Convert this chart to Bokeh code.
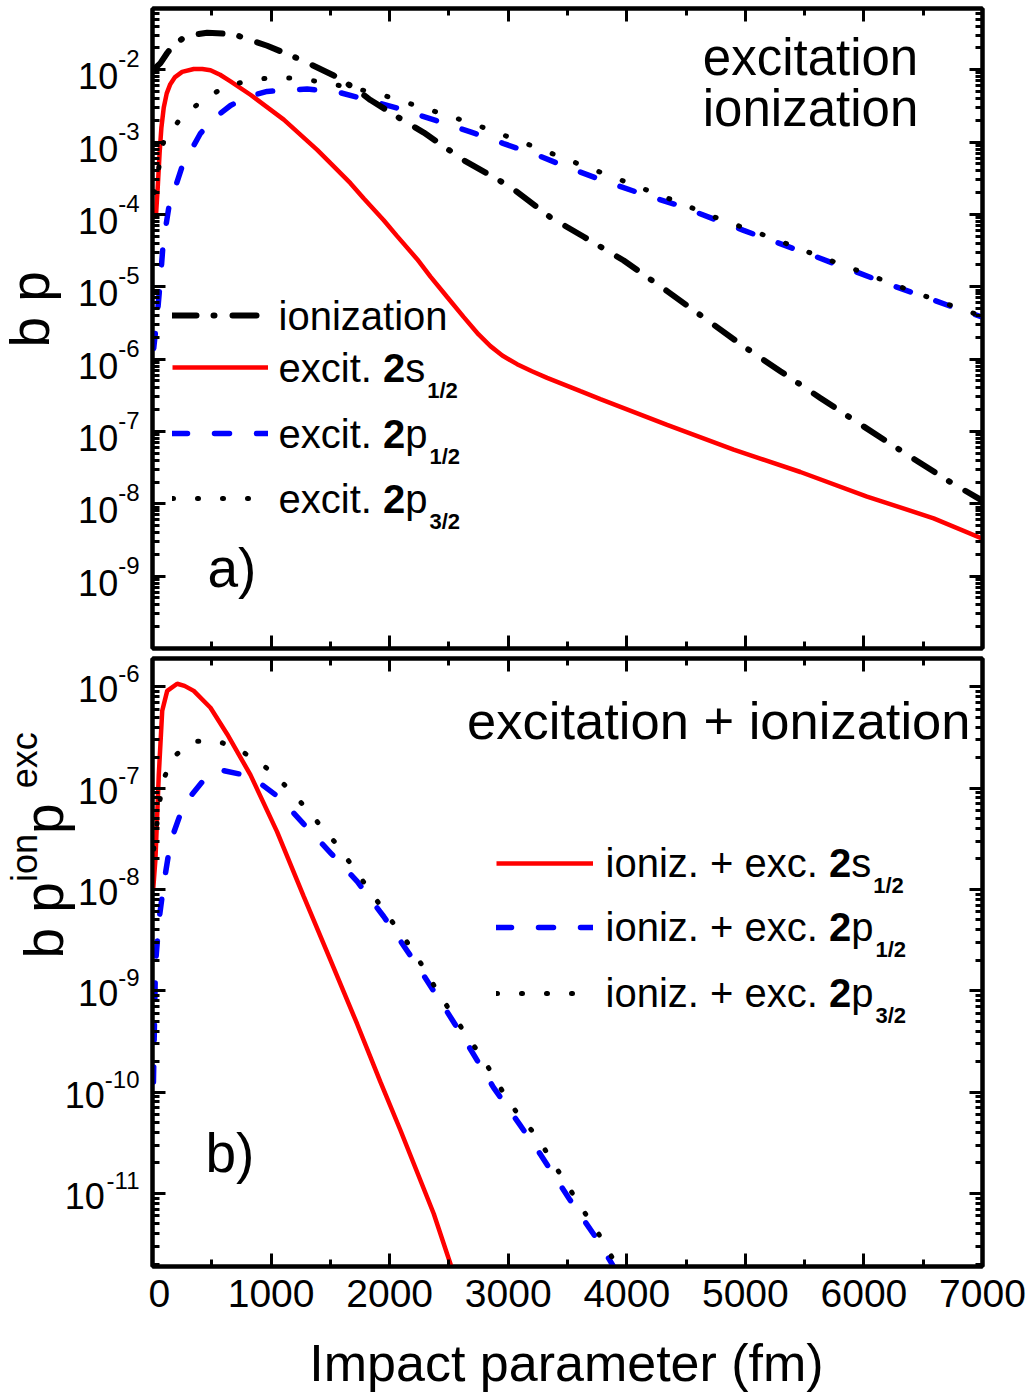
import math
from bokeh.plotting import figure
from bokeh.layouts import column, row
from bokeh.models import (FixedTicker, LinearAxis, LogAxis, Range1d, Label,
                          Legend, LegendItem, CustomJSTickFormatter)
from bokeh.embed import file_html
from bokeh.resources import INLINE

FONT = "Liberation Sans"

# ---------------- data ----------------
# panel a)  b*p versus impact parameter b (fm)
ion_b = [10, 67, 124, 180, 292, 461, 683, 967, 1248, 1529, 1726, 1838, 2063, 2288,
         2625, 3019, 3356, 3637, 3974, 4340, 4985, 5295, 5632, 5998, 6363, 6728, 7000]
ion_bp = [1.0e-2, 1.23e-2, 1.70e-2, 2.24e-2, 2.95e-2, 3.24e-2, 3.09e-2, 2.14e-2, 1.38e-2,
          8.3e-3, 5.25e-3, 3.8e-3, 2.24e-3, 1.35e-3, 5.6e-4, 2.4e-4, 9.1e-5, 4.9e-5,
          2.3e-5, 8.7e-6, 1.5e-6, 6.8e-7, 2.9e-7, 1.17e-7, 4.8e-8, 2.0e-8, 1.1e-8]

s12_b = [30, 45, 60, 75, 95, 120, 150, 190, 250, 348, 420, 489, 570, 658, 826, 1107,
         1389, 1501, 1669, 1782, 1950, 2063, 2232, 2344, 2485, 2625, 2750, 2850, 2950,
         3075, 3200, 3328, 3609, 3777, 4340, 4901, 5464, 6026, 6588, 7000]
s12_bp = [1.0e-4, 2.5e-4, 7.1e-4, 1.58e-3, 3.0e-3, 4.7e-3, 6.3e-3, 7.9e-3, 9.3e-3,
          1.02e-2, 1.02e-2, 9.8e-3, 8.5e-3, 6.9e-3, 4.5e-3, 2.04e-3, 7.8e-4, 5.1e-4,
          2.7e-4, 1.66e-4, 8.3e-5, 5.0e-5, 2.4e-5, 1.38e-5, 7.2e-6, 3.8e-6, 2.19e-6,
          1.51e-6, 1.12e-6, 8.5e-7, 6.8e-7, 5.5e-7, 3.6e-7, 2.8e-7, 1.23e-7, 5.6e-8,
          2.75e-8, 1.26e-8, 6.3e-9, 3.3e-9]

p12_b = [10, 40, 67, 90, 138, 250, 405, 530, 658, 800, 967, 1304, 1585, 2063, 2428,
         2681, 2962, 3244, 3525, 3834, 4115, 4423, 4985, 5604, 6166, 6799, 7000]
p12_bp = [1.4e-6, 4.0e-6, 1.26e-5, 4.0e-5, 1.26e-4, 4.6e-4, 1.32e-3, 2.2e-3, 3.2e-3,
          4.2e-3, 5.0e-3, 5.4e-3, 4.8e-3, 2.95e-3, 1.9e-3, 1.38e-3, 9.5e-4, 6.6e-4,
          4.3e-4, 2.8e-4, 1.95e-4, 1.35e-4, 6.0e-5, 2.57e-5, 1.15e-5, 4.9e-6, 3.8e-6]

p32_b = [15, 93, 215, 427, 635, 840, 1051, 1262, 1459, 1880, 2288, 2710, 3117, 3525,
         3946, 4368, 4775, 5197, 5604, 6020, 6433, 6855, 7000]
p32_bp = [2.0e-4, 1.0e-3, 1.9e-3, 3.9e-3, 6.0e-3, 7.2e-3, 7.9e-3, 7.4e-3, 6.6e-3,
          4.8e-3, 2.95e-3, 1.78e-3, 1.0e-3, 5.5e-4, 3.0e-4, 1.62e-4, 8.7e-5, 4.9e-5,
          2.7e-5, 1.51e-5, 8.3e-6, 4.7e-6, 3.9e-6]

# panel b)  b * p_ion * p_exc
is12_b = [6, 25, 53, 82, 124, 208, 270, 348, 489, 630, 826, 1051, 1276, 1501, 1726,
          1922, 2091, 2372, 2520]
is12_bp = [1.0e-8, 2.0e-8, 1.35e-7, 5.8e-7, 9.1e-7, 1.07e-6, 1.02e-6, 9.1e-7, 6.2e-7,
           3.4e-7, 1.35e-7, 3.7e-8, 8.5e-9, 2.0e-9, 4.7e-10, 1.26e-10, 4.2e-11, 6.3e-12,
           1.9e-12]

ip12_b = [8, 25, 55, 96, 152, 264, 461, 573, 770, 883, 1079, 1276, 1501, 1726, 1950,
          2232, 2485, 2654, 2878, 3096, 3275, 3513, 3752, 3900]
ip12_bp = [1.26e-10, 1.8e-9, 5.0e-9, 1.15e-8, 2.95e-8, 6.9e-8, 1.32e-7, 1.51e-7,
           1.35e-7, 1.17e-7, 7.9e-8, 4.4e-8, 2.3e-8, 1.2e-8, 5.4e-9, 1.78e-9, 6.2e-10,
           3.0e-10, 1.1e-10, 4.8e-11, 2.4e-11, 8.9e-12, 3.5e-12, 1.8e-12]

ip32_b = [10, 82, 166, 348, 559, 770, 972, 1178, 1360, 1535, 1692, 1838, 1984, 2133,
          2274, 2400, 2527, 2667, 2808, 2934, 3075, 3245, 3379, 3499, 3633, 3767, 3920]
ip32_bp = [2.5e-8, 1.12e-7, 2.0e-7, 2.9e-7, 2.9e-7, 2.24e-7, 1.55e-7, 9.1e-8, 5.1e-8,
           2.95e-8, 1.66e-8, 9.5e-9, 5.5e-9, 3.2e-9, 1.78e-9, 1.0e-9, 5.9e-10, 3.4e-10,
           1.95e-10, 1.1e-10, 6.2e-11, 3.6e-11, 2.0e-11, 1.2e-11, 6.8e-12, 3.9e-12, 1.9e-12]

# ticks and labels
x_major = [0, 1000, 2000, 3000, 4000, 5000, 6000, 7000]
x_minor = [500, 1500, 2500, 3500, 4500, 5500, 6500]
a_exps = [-2, -3, -4, -5, -6, -7, -8, -9]
b_exps = [-6, -7, -8, -9, -10, -11]
x_title = "Impact parameter (fm)"
a_ytitle = [("b p", "m")]
b_ytitle = [("b p", "m"), ("ion", "s"), (" p", "m"), ("exc", "s")]
a_note = ["excitation", "ionization"]
b_note = "excitation + ionization"
a_legend = [
    [("ionization", "n")],
    [("excit. ", "n"), ("2", "b"), ("s", "n"), ("1/2", "sub")],
    [("excit. ", "n"), ("2", "b"), ("p", "n"), ("1/2", "sub")],
    [("excit. ", "n"), ("2", "b"), ("p", "n"), ("3/2", "sub")],
]
b_legend = [
    [("ioniz. + exc. ", "n"), ("2", "b"), ("s", "n"), ("1/2", "sub")],
    [("ioniz. + exc. ", "n"), ("2", "b"), ("p", "n"), ("1/2", "sub")],
    [("ioniz. + exc. ", "n"), ("2", "b"), ("p", "n"), ("3/2", "sub")],
]

# ---------------- layout (page pixels) ----------------
W = 1035
SIDE = 148                 # width of the left strip holding y labels
FL, FR = 152, 982          # frame left / right (page x)
FW = FR - FL
XMAX = 7000
A_H, A_TOP, A_BOT = 652, 8, 648
B_H, B_TOP, B_BOT = 674, 658, 1266          # page coordinates
T_H = 1393 - A_H - B_H                      # strip for x title
A_YR = (1e-10, 0.07)
B_YR = (1.9e-12, 1.9e-6)
BASE_K = 0.37              # anchor correction (fraction of font size)

REG = {' ': 278, '+': 584, '-': 333, '.': 278, '/': 278, '(': 333, ')': 333,
       'a': 556, 'b': 556, 'c': 500, 'e': 556, 'f': 278, 'i': 222, 'm': 833, 'n': 556,
       'o': 556, 'p': 556, 'r': 333, 's': 500, 't': 278, 'x': 500, 'z': 500}
BOLD = {'/': 278, 's': 556, 'p': 611}


def tw(s, size, bold=False):
    tot = 0
    for ch in s:
        if ch.isdigit():
            tot += 556
        else:
            tot += (BOLD.get(ch, REG.get(ch, 556)) if bold else REG.get(ch, 556))
    return tot / 1000.0 * size


def xd(px):
    return (px - FL) / FW * XMAX


def ymapper(top, bot, yr):
    lt, lb = math.log10(yr[1]), math.log10(yr[0])

    def f(py):
        return 10 ** (lt - (py - top) / (bot - top) * (lt - lb))

    def tick_py(e):
        return top + (lt - e) / (lt - lb) * (bot - top)
    return f, tick_py


def lab(p, x, y, text, size, bold=False, align="left", angle=0.0):
    p.add_layout(Label(x=x, y=y, text=text, text_font=FONT, text_font_size=f"{size}px",
                       text_font_style="bold" if bold else "normal", text_color="black",
                       text_align=align, text_baseline="alphabetic", angle=angle))


def hlab(p, ymap, px, base_py, text, size, bold=False, align="left", data_x=True):
    x = xd(px) if data_x else px
    lab(p, x, ymap(base_py - BASE_K * size), text, size, bold, align)


def style_axis(ax, labels=False):
    ax.axis_line_width = 4
    ax.axis_line_color = "black"
    ax.major_tick_in = 13
    ax.major_tick_out = 0
    ax.minor_tick_in = 7
    ax.minor_tick_out = 0
    ax.major_tick_line_width = 3
    ax.minor_tick_line_width = 3
    ax.major_tick_line_color = "black"
    ax.minor_tick_line_color = "black"
    if not labels:
        ax.formatter = CustomJSTickFormatter(code="return ''")
        ax.major_label_text_font_size = "0px"
        ax.major_label_standoff = 0


def bare(p):
    p.grid.visible = False
    p.outline_line_color = None
    p.background_fill_color = "white"
    p.border_fill_color = "white"


def make_fig(height, top_border, frame_h, yr, exps):
    p = figure(width=W - SIDE, height=height, x_range=Range1d(0, XMAX), y_range=Range1d(*yr),
               y_axis_type="log", x_axis_location=None, y_axis_location=None,
               output_backend="svg", toolbar_location=None,
               min_border_left=FL - SIDE, min_border_right=W - FR,
               min_border_top=top_border, min_border_bottom=height - top_border - frame_h)
    bare(p)
    p.outline_line_color = "black"
    p.outline_line_width = 4
    y_minor = [k * 10.0 ** e for e in range(min(exps) - 2, max(exps) + 2) for k in range(2, 10)]
    y_major = [10.0 ** e for e in range(min(exps) - 2, max(exps) + 2)]
    for loc in ("left", "right"):
        ax = LogAxis(ticker=FixedTicker(ticks=y_major, minor_ticks=y_minor))
        style_axis(ax)
        p.add_layout(ax, loc)
    return p


def make_side(height, top_border, frame_h, yr):
    s = figure(width=SIDE, height=height, x_range=Range1d(0, SIDE), y_range=Range1d(*yr),
               y_axis_type="log", x_axis_location=None, y_axis_location=None,
               output_backend="svg", toolbar_location=None,
               min_border_left=0, min_border_right=0,
               min_border_top=top_border, min_border_bottom=height - top_border - frame_h)
    bare(s)
    return s


def add_x_axes(p, labelled):
    top_ax = LinearAxis(ticker=FixedTicker(ticks=x_major, minor_ticks=x_minor))
    style_axis(top_ax)
    p.add_layout(top_ax, "above")
    bot_ax = LinearAxis(ticker=FixedTicker(ticks=x_major, minor_ticks=x_minor))
    style_axis(bot_ax, labels=labelled)
    if labelled:
        bot_ax.major_label_text_font = FONT
        bot_ax.major_label_text_font_size = "39px"
        bot_ax.major_label_text_color = "black"
        bot_ax.major_label_standoff = 13
    p.add_layout(bot_ax, "below")


def y_tick_labels(s, ymap, tick_py, exps, d10, dexp):
    for e in exps:
        py = tick_py(e)
        es = str(e)
        ew = tw(es, 24)
        lab(s, 139, ymap(py + dexp - BASE_K * 24), es, 24, align="right")
        lab(s, 139 - ew, ymap(py + d10 - BASE_K * 36), "10", 36, align="right")


def y_title(s, ymap, start_py, base_main, base_sup, parts, main=55, sup=36):
    ycur = start_py
    for txt, kind in parts:
        size, bx = (main, base_main) if kind == "m" else (sup, base_sup)
        lab(s, bx - BASE_K * size, ymap(ycur), txt, size, angle=math.pi / 2)
        ycur -= tw(txt, size)


def legend_row(p, renderer, frame_bot, line_py, x0, gw):
    leg = Legend(items=[LegendItem(label=" ", renderers=[renderer])],
                 location=(x0 - FL, frame_bot - line_py - 10), orientation="vertical",
                 glyph_width=gw, glyph_height=20, label_width=0, label_height=20,
                 label_standoff=0, padding=0, margin=0, spacing=0,
                 border_line_alpha=0, background_fill_alpha=0, label_text_font_size="1px")
    p.add_layout(leg)


def legend_text(p, ymap, x, base, parts):
    for s, kind in parts:
        if kind == "sub":
            x += 2
            hlab(p, ymap, x, base + 16, s, 22, bold=True)
            x += tw(s, 22, True)
        elif kind == "b":
            hlab(p, ymap, x, base, s, 40, bold=True)
            x += tw(s, 40, True)
        else:
            hlab(p, ymap, x, base, s, 40)
            x += tw(s, 40)


DASH_ION = "24 17 1 18"
DASH_BLUE = "15 27"
DASH_DOT = "1 24"

# ---------------- panel a ----------------
pa = make_fig(A_H, A_TOP, A_BOT - A_TOP, A_YR, a_exps)
sa = make_side(A_H, A_TOP, A_BOT - A_TOP, A_YR)
add_x_axes(pa, False)
ya, ta = ymapper(A_TOP, A_BOT, A_YR)

r_s = pa.line(s12_b, s12_bp, line_color="#ff0000", line_width=4.5)
r_p1 = pa.line(p12_b, p12_bp, line_color="#0000ff", line_width=5.5, line_dash=DASH_BLUE, line_cap="round")
r_p3 = pa.line(p32_b, p32_bp, line_color="black", line_width=5, line_dash=DASH_DOT, line_cap="round")
r_i = pa.line(ion_b, ion_bp, line_color="black", line_width=6, line_dash=DASH_ION, line_cap="round")

a_rows = [315, 367, 433, 498]
for r, ly, parts in zip([r_i, r_s, r_p1, r_p3], a_rows, a_legend):
    legend_row(pa, r, A_BOT, ly, 172, 96)
    legend_text(pa, ya, 278, ly + 15, parts)

hlab(pa, ya, 810, 76, a_note[0], 51, align="center")
hlab(pa, ya, 810, 127, a_note[1], 51, align="center")
hlab(pa, ya, 207, 588, "a)", 55)

y_tick_labels(sa, ya, ta, a_exps, 20, -2)
y_title(sa, ya, 347, 50, 24, a_ytitle)

# ---------------- panel b ----------------
pb = make_fig(B_H, B_TOP - A_H, B_BOT - B_TOP, B_YR, b_exps)
sb = make_side(B_H, B_TOP - A_H, B_BOT - B_TOP, B_YR)
add_x_axes(pb, True)
yb, tb = ymapper(B_TOP, B_BOT, B_YR)

q_s = pb.line(is12_b, is12_bp, line_color="#ff0000", line_width=4.5)
q_p1 = pb.line(ip12_b, ip12_bp, line_color="#0000ff", line_width=5.5, line_dash=DASH_BLUE, line_cap="round")
q_p3 = pb.line(ip32_b, ip32_bp, line_color="black", line_width=5, line_dash=DASH_DOT, line_cap="round")

b_rows = [863, 927, 993]
for r, ly, parts in zip([q_s, q_p1, q_p3], b_rows, b_legend):
    legend_row(pb, r, B_BOT, ly, 496, 97)
    legend_text(pb, yb, 605, ly + 14, parts)

hlab(pb, yb, 970, 739, b_note, 52.5, align="right")
hlab(pb, yb, 205, 1173, "b)", 55)

y_tick_labels(sb, yb, tb, b_exps, 16, -4)
y_title(sb, yb, 958, 64, 37, b_ytitle)

# ---------------- x title strip ----------------
st = figure(width=W, height=T_H, x_range=Range1d(0, W), y_range=Range1d(0, T_H),
            x_axis_location=None, y_axis_location=None, output_backend="svg",
            toolbar_location=None, min_border_left=0, min_border_right=0,
            min_border_top=0, min_border_bottom=0)
bare(st)
T_TOP = A_H + B_H
lab(st, 566, T_H - (1382 - T_TOP - BASE_K * 52), x_title, 52, align="center")

layout = column(row(sa, pa, spacing=0), row(sb, pb, spacing=0), st, spacing=0)
open("out.html", "w").write(file_html(layout, INLINE))
